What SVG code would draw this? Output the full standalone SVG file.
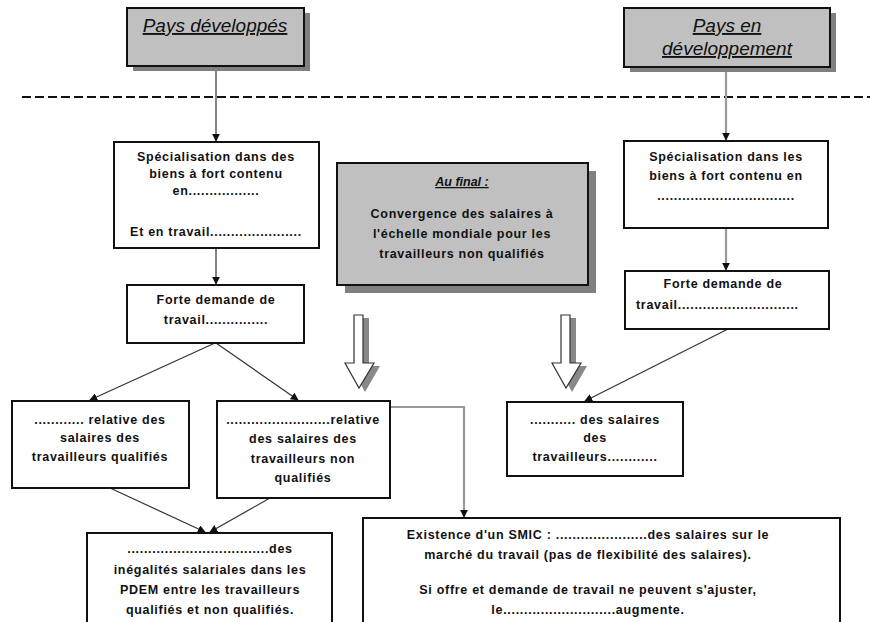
<svg xmlns="http://www.w3.org/2000/svg" width="870" height="622" viewBox="0 0 870 622">
<defs>
<style>
.box{fill:#ffffff;stroke:#111;stroke-width:2}
.gbox{fill:#c0c0c0;stroke:#111;stroke-width:2}
.shadow{fill:#808080}
.t{font-family:"Liberation Sans",Arial,sans-serif;font-size:12.5px;font-weight:bold;fill:#111;text-anchor:middle;letter-spacing:0.7px}
.tl{text-anchor:start}
.title{font-family:"Liberation Sans",Arial,sans-serif;font-size:19px;font-style:italic;fill:#111;text-anchor:middle;text-decoration:underline}
.sub{font-family:"Liberation Sans",Arial,sans-serif;font-size:12.5px;font-style:italic;font-weight:bold;fill:#111;text-anchor:middle;text-decoration:underline}
.c{fill:none;stroke:#333;stroke-width:1.2}
.cg{fill:none;stroke:#999;stroke-width:2.2}
.blk{fill:#fff;stroke:#333;stroke-width:1.2}
</style>
<marker id="ah" viewBox="0 0 10 10" refX="9" refY="5" markerWidth="8" markerHeight="8" markerUnits="userSpaceOnUse" orient="auto">
<path d="M0,0 L10,5 L0,10 z" fill="#111"/>
</marker>
</defs>
<rect width="870" height="622" fill="#ffffff"/>

<line x1="22" y1="97" x2="870" y2="97" stroke="#111" stroke-width="2" stroke-dasharray="9,4"/>

<g id="connectors">
<line class="c" x1="216" y1="66" x2="216" y2="141" marker-end="url(#ah)"/>
<line class="cg" x1="726" y1="68" x2="726" y2="140" marker-end="url(#ah)"/>
<line class="c" x1="216" y1="248" x2="216" y2="284" marker-end="url(#ah)"/>
<line class="cg" x1="726" y1="228" x2="726" y2="270" marker-end="url(#ah)"/>
<line class="c" x1="215" y1="343" x2="90" y2="400" marker-end="url(#ah)"/>
<line class="c" x1="216" y1="343" x2="298" y2="400" marker-end="url(#ah)"/>
<line class="c" x1="728" y1="329" x2="585" y2="401" marker-end="url(#ah)"/>
<line class="c" x1="110" y1="488" x2="205" y2="532" marker-end="url(#ah)"/>
<line class="c" x1="270" y1="498" x2="210" y2="532" marker-end="url(#ah)"/>
<polyline class="cg" points="390,407 464,407 464,517" marker-end="url(#ah)"/>
</g>

<g id="arrow-block-1">
<path d="M357,316 L366,316 L366,364 L377,364 L362,390 L348,364 L357,364 Z" fill="#888" transform="translate(3,2)"/>
<path class="blk" d="M354,315 L363,315 L363,363 L374,363 L359,388 L345,363 L354,363 Z"/>
</g>
<g id="arrow-block-2">
<path d="M564,316 L573,316 L573,364 L584,364 L569,390 L555,364 L564,364 Z" fill="#888" transform="translate(3,2)"/>
<path class="blk" d="M561,315 L570,315 L570,363 L581,363 L566,388 L552,363 L561,363 Z"/>
</g>

<g id="pays-developpes">
<rect class="shadow" x="133" y="13" width="177" height="58"/>
<rect class="gbox" x="127" y="8" width="177" height="58"/>
<text class="title" x="215" y="32">Pays développés</text>
</g>

<g id="pays-en-developpement">
<rect class="shadow" x="630" y="13" width="206" height="59"/>
<rect class="gbox" x="624" y="8" width="206" height="59"/>
<text class="title" x="727" y="32">Pays en</text>
<text class="title" x="727" y="55">développement</text>
</g>

<g id="specialisation-pdem">
<rect class="box" x="114" y="142" width="205" height="106"/>
<text class="t" x="216" y="161">Spécialisation dans des</text>
<text class="t" x="216" y="178">biens à fort contenu</text>
<text class="t" x="216" y="195">en.................</text>
<text class="t" x="216" y="236">Et en travail......................</text>
</g>

<g id="specialisation-ped">
<rect class="box" x="624" y="141" width="204" height="87"/>
<text class="t" x="726" y="161">Spécialisation dans les</text>
<text class="t" x="726" y="180">biens à fort contenu en</text>
<text class="t" x="726" y="200">.................................</text>
</g>

<g id="au-final">
<rect class="shadow" x="345" y="171" width="251" height="122"/>
<rect class="gbox" x="337" y="163" width="251" height="122"/>
<text class="sub" x="462" y="186">Au final :</text>
<text class="t" x="462" y="218">Convergence des salaires à</text>
<text class="t" x="462" y="238">l'échelle mondiale pour les</text>
<text class="t" x="462" y="258">travailleurs non qualifiés</text>
</g>

<g id="forte-demande-pdem">
<rect class="box" x="127" y="285" width="177" height="58"/>
<text class="t" x="216" y="304">Forte demande de</text>
<text class="t" x="216" y="324">travail...............</text>
</g>

<g id="forte-demande-ped">
<rect class="box" x="625" y="271" width="204" height="58"/>
<text class="t" x="723" y="288">Forte demande de</text>
<text class="t tl" x="636" y="309">travail.............................</text>
</g>

<g id="relative-qualifies">
<rect class="box" x="12" y="401" width="177" height="87"/>
<text class="t" x="100" y="424">............ relative des</text>
<text class="t" x="100" y="442">salaires des</text>
<text class="t" x="100" y="461">travailleurs qualifiés</text>
</g>

<g id="relative-non-qualifies">
<rect class="box" x="217" y="401" width="173" height="97"/>
<text class="t" x="303" y="424">.........................relative</text>
<text class="t" x="303" y="443">des salaires des</text>
<text class="t" x="303" y="463">travailleurs non</text>
<text class="t" x="303" y="482">qualifiés</text>
</g>

<g id="salaires-ped">
<rect class="box" x="507" y="402" width="176" height="74"/>
<text class="t" x="595" y="424">........... des salaires</text>
<text class="t" x="595" y="442">des</text>
<text class="t" x="595" y="461">travailleurs............</text>
</g>

<g id="inegalites">
<rect class="box" x="87" y="533" width="245" height="100"/>
<text class="t" x="210" y="553">..................................des</text>
<text class="t" x="210" y="574">inégalités salariales dans les</text>
<text class="t" x="210" y="594">PDEM entre les travailleurs</text>
<text class="t" x="210" y="614">qualifiés et non qualifiés.</text>
</g>

<g id="smic">
<rect class="box" x="363" y="518" width="477" height="115"/>
<text class="t" x="588" y="539">Existence d'un SMIC : ......................des salaires sur le</text>
<text class="t" x="588" y="559">marché du travail (pas de flexibilité des salaires).</text>
<text class="t" x="588" y="594">Si offre et demande de travail ne peuvent s'ajuster,</text>
<text class="t" x="588" y="614">le...........................augmente.</text>
</g>
</svg>
